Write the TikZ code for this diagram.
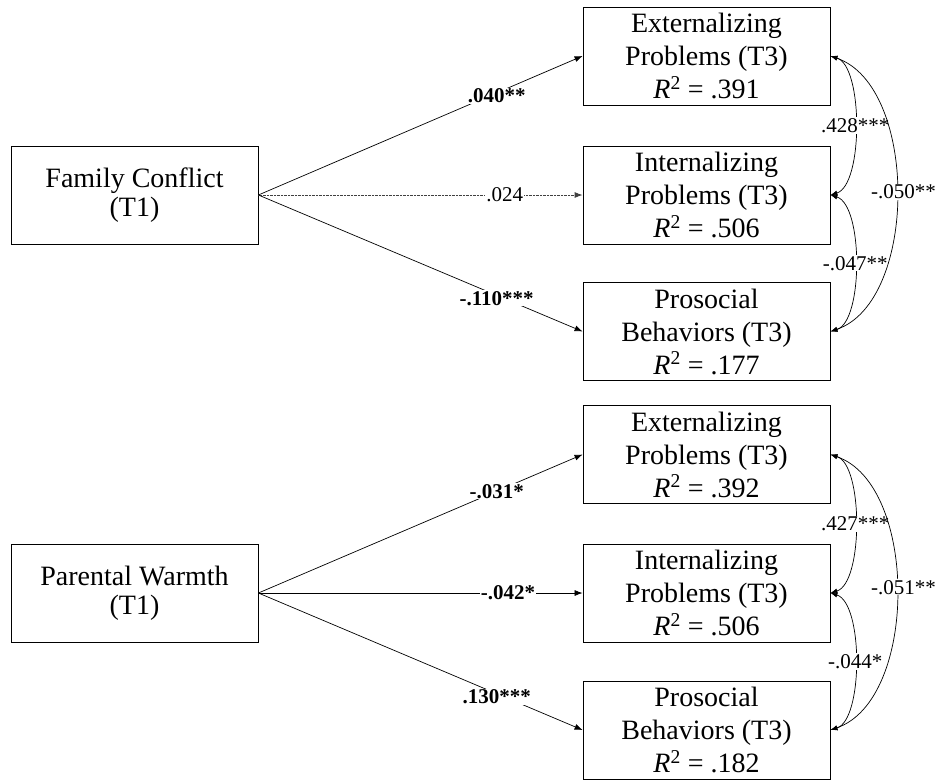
\documentclass[tikz,border=0pt]{standalone}
\usepackage{fontspec}
\setmainfont{Liberation Serif}
\usetikzlibrary{arrows.meta}
\begin{document}
\begin{tikzpicture}[x=1pt,y=-1pt,
  varbox/.style={draw, line width=0.8pt, minimum width=247pt, minimum height=98pt, inner sep=0pt, align=center, font=\fontsize{28}{33}\selectfont},
  predbox/.style={varbox, font=\fontsize{28}{29}\selectfont},
  effect/.style={-{Latex[length=8pt,width=6pt]}, line width=0.7pt},
  weak/.style={effect, line width=0.8pt, black!75, dash pattern=on 0.8pt off 0.6pt},
  cov/.style={{Latex[length=7pt,width=5pt]}-{Latex[length=7pt,width=5pt]}, line width=0.7pt},
  blab/.style={fill=white, inner sep=1pt, font=\fontsize{21}{24}\selectfont\bfseries, text=black},
  rlab/.style={fill=white, inner sep=1pt, font=\fontsize{21}{24}\selectfont, text=black},
]
\useasboundingbox (0,0) rectangle (935,780);

% ---------- top model ----------
\node[predbox] (FC) at (134.5,195) {Family Conflict\\(T1)};
\node[varbox] (E1) at (706.5,56) {Externalizing\\Problems (T3)\\\textit{R}\textsuperscript{2} = .391};
\node[varbox] (I1) at (706.5,195) {Internalizing\\Problems (T3)\\\textit{R}\textsuperscript{2} = .506};
\node[varbox] (P1) at (706.5,331.5) {Prosocial\\Behaviors (T3)\\\textit{R}\textsuperscript{2} = .177};

\draw[effect] (FC.east) -- node[blab, pos=0.735, yshift=-3pt] {.040**} (E1.west);
\draw[weak] (FC.east) -- node[rlab, pos=0.76] {.024} (I1.west);
\draw[effect] (FC.east) -- node[blab, pos=0.735, yshift=-3pt] {-.110***} (P1.west);

\draw[cov] (E1.east) .. controls +(33,10) and +(33,-10) .. node[rlab, midway] {.428***} (I1.east);
\draw[cov] (I1.east) .. controls +(33,10) and +(33,-10) .. node[rlab, midway] {-.047**} (P1.east);
\draw[cov] (E1.east) .. controls +(88,30) and +(88,-30) .. node[rlab, midway, xshift=7pt, yshift=2pt] {-.050**} (P1.east);

% ---------- bottom model ----------
\node[predbox] (PW) at (134.5,593) {Parental Warmth\\(T1)};
\node[varbox] (E2) at (706.5,454.5) {Externalizing\\Problems (T3)\\\textit{R}\textsuperscript{2} = .392};
\node[varbox] (I2) at (706.5,593) {Internalizing\\Problems (T3)\\\textit{R}\textsuperscript{2} = .506};
\node[varbox] (P2) at (706.5,730) {Prosocial\\Behaviors (T3)\\\textit{R}\textsuperscript{2} = .182};

\draw[effect] (PW.east) -- node[blab, pos=0.735] {-.031*} (E2.west);
\draw[effect] (PW.east) -- node[blab, pos=0.77] {-.042*} (I2.west);
\draw[effect] (PW.east) -- node[blab, pos=0.735, yshift=-3pt] {.130***} (P2.west);

\draw[cov] (E2.east) .. controls +(33,10) and +(33,-10) .. node[rlab, midway] {.427***} (I2.east);
\draw[cov] (I2.east) .. controls +(33,10) and +(33,-10) .. node[rlab, midway] {-.044*} (P2.east);
\draw[cov] (E2.east) .. controls +(88,30) and +(88,-30) .. node[rlab, midway, xshift=7pt, yshift=5pt] {-.051**} (P2.east);
\end{tikzpicture}
\end{document}
